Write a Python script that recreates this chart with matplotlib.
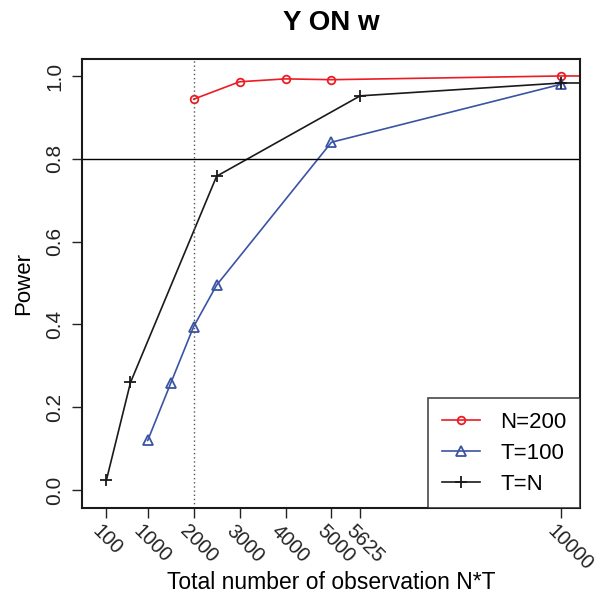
import matplotlib
matplotlib.use("Agg")
from matplotlib import pyplot as plt
from matplotlib.transforms import ScaledTranslation

plt.rcParams['font.family'] = ['Liberation Sans', 'DejaVu Sans']

# power curves against total number of observations N*T
n200_x = [2000, 3000, 4000, 5000, 10000, 20000]
n200_y = [0.944, 0.986, 0.993, 0.991, 1.0, 1.0]

t100_x = [1000, 1500, 2000, 2500, 5000, 10000]
t100_y = [0.12, 0.258, 0.395, 0.495, 0.84, 0.98]

tn_x = [100, 625, 2500, 5625, 10000, 22500]
tn_y = [0.024, 0.26, 0.758, 0.952, 0.983, 0.985]

xticks = [100, 1000, 2000, 3000, 4000, 5000, 5625, 10000]
yticks = [0.0, 0.2, 0.4, 0.6, 0.8, 1.0]

red = '#ec1c24'
blue = '#3a54a4'

fig = plt.figure(figsize=(5.97, 5.94), dpi=100)
ax = fig.add_axes([0.1374, 0.1448, 0.8341, 0.7559])

ax.plot(n200_x, n200_y, '-', color=red, lw=1.2, marker='o', ms=5.5,
        mfc='none', mec=red, mew=1.3, label='N=200')
ax.plot(t100_x, t100_y, '-', color=blue, lw=1.2, marker='^', ms=6.5,
        mfc='none', mec=blue, mew=1.3, label='T=100')
ax.plot(tn_x, tn_y, '-', color='#1a1a1a', lw=1.2, marker='+', ms=8,
        mew=1.3, label='T=N')

ax.axhline(0.8, color='black', lw=1.0)
ax.axvline(2000, color='#555555', lw=1.0, ls=(0, (1, 2)))

ax.set_xlim(-430, 10410)
ax.set_ylim(-0.043, 1.041)

ax.set_xticks(xticks)
ax.set_xticklabels([str(v) for v in xticks], rotation=-45, ha='left',
                   va='top', rotation_mode='anchor', fontsize=14.5)
ax.set_yticks(yticks)
ax.set_yticklabels([f'{v:.1f}' for v in yticks], rotation=90,
                   va='center', fontsize=15)
ax.tick_params(axis='both', direction='out', length=7, width=1.0,
               colors='#222222', pad=6)
ax.tick_params(axis='x', pad=3)

# nudge the slanted labels a bit to the left of their ticks
shift = ScaledTranslation(-3 / 72, 0, fig.dpi_scale_trans)
for lab in ax.get_xticklabels():
    lab.set_transform(lab.get_transform() + shift)

for s in ax.spines.values():
    s.set_linewidth(1.5)
    s.set_color('#1a1a1a')

ax.set_title('Y ON w', fontsize=20, fontweight='bold', pad=21)
ax.set_xlabel('Total number of observation N*T', fontsize=16.5, va='center')
ax.xaxis.set_label_coords(0.5, -0.165)
ax.set_ylabel('Power', fontsize=16, labelpad=8)

leg = ax.legend(loc='lower right', fontsize=16, frameon=True, fancybox=False,
                borderaxespad=0, handlelength=1.75, borderpad=0.6,
                labelspacing=0.45, handletextpad=0.9)
leg.get_frame().set_edgecolor('#1a1a1a')
leg.get_frame().set_linewidth(1.2)

fig.savefig('out.png', dpi=100)
